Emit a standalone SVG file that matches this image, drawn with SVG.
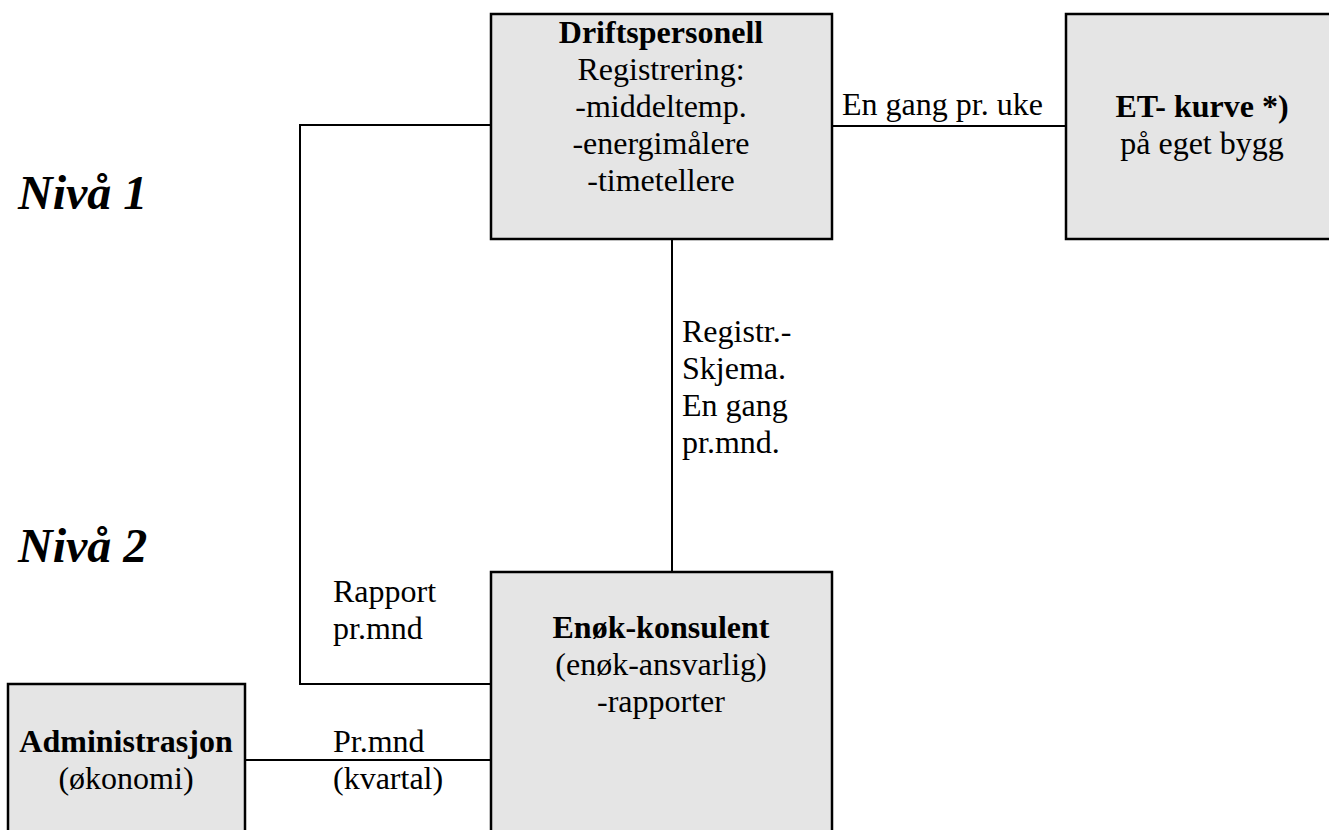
<svg xmlns="http://www.w3.org/2000/svg" width="1329" height="830" viewBox="0 0 1329 830">
<style>
.box{fill:#e5e5e5;stroke:#000;stroke-width:2.5}
.ln{fill:none;stroke:#000;stroke-width:2}
text{font-family:"Liberation Serif","Times New Roman",serif;font-size:32px;fill:#000}
.b{font-weight:bold}
.c{text-anchor:middle}
.lvl{font-size:48px;font-weight:bold;font-style:italic}
</style>
<rect width="1329" height="830" fill="#fff"/>
<g id="connectors">
<polyline class="ln" points="491,125 300,125 300,684 491,684"/>
<line class="ln" x1="832" y1="126" x2="1066" y2="126"/>
<line class="ln" x1="672" y1="239" x2="672" y2="572"/>
<line class="ln" x1="245" y1="760" x2="491" y2="760"/>
<text x="842" y="115">En gang pr. uke</text>
<text x="682" y="342">Registr.-</text>
<text x="682" y="379">Skjema.</text>
<text x="682" y="416">En gang</text>
<text x="682" y="453">pr.mnd.</text>
<text x="333" y="602">Rapport</text>
<text x="333" y="639">pr.mnd</text>
<text x="333" y="752">Pr.mnd</text>
<text x="333" y="789">(kvartal)</text>
</g>
<g id="levels">
<text class="lvl" x="18" y="209">Nivå 1</text>
<text class="lvl" x="18" y="562">Nivå 2</text>
</g>
<g id="driftspersonell">
<rect class="box" x="491" y="14" width="341" height="225"/>
<text class="c b" x="661" y="43">Driftspersonell</text>
<text class="c" x="661" y="80">Registrering:</text>
<text class="c" x="661" y="117">-middeltemp.</text>
<text class="c" x="661" y="154">-energimålere</text>
<text class="c" x="661" y="191">-timetellere</text>
</g>
<g id="et-kurve">
<rect class="box" x="1066" y="14" width="275" height="225"/>
<text class="c b" x="1202" y="117">ET- kurve *)</text>
<text class="c" x="1202" y="154">på eget bygg</text>
</g>
<g id="enok-konsulent">
<rect class="box" x="491" y="572" width="341" height="270"/>
<text class="c b" x="661" y="638">Enøk-konsulent</text>
<text class="c" x="661" y="675">(enøk-ansvarlig)</text>
<text class="c" x="661" y="712">-rapporter</text>
</g>
<g id="administrasjon">
<rect class="box" x="8" y="684" width="237" height="160"/>
<text class="c b" x="126" y="752">Administrasjon</text>
<text class="c" x="126" y="789">(økonomi)</text>
</g>
</svg>
